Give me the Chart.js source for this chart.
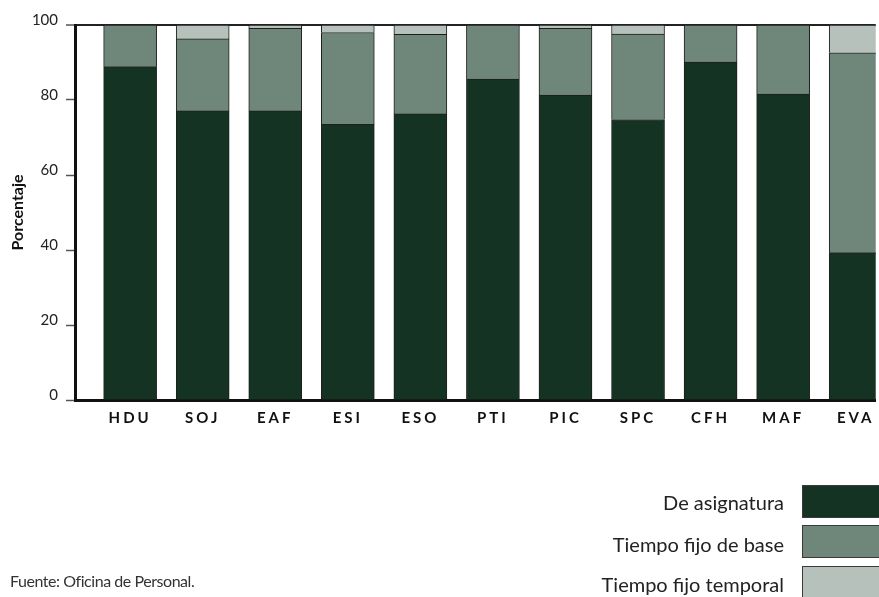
<!DOCTYPE html>
<html>
<head>
<meta charset="utf-8">
<script src="https://cdn.jsdelivr.net/npm/chart.js@4/dist/chart.umd.min.js"></script>
<style>
  html, body { margin: 0; padding: 0; background: #fff; width: 879px; height: 597px; overflow: hidden; }
  #wrap { position: absolute; left: 0; top: 0; width: 879px; height: 597px; }
  .leg { position: absolute; right: 95px; font-family: Lato, "Open Sans", sans-serif; font-size: 20px; color: #222; line-height: 22px; white-space: nowrap; }
  .box { position: absolute; left: 802px; width: 80px; height: 31px; border: 1.5px solid #3a3a3a; box-sizing: content-box; }
  #src { position: absolute; left: 10px; top: 572px; font-family: Lato, "Open Sans", sans-serif; font-size: 16px; letter-spacing: -0.45px; color: #333; white-space: nowrap; line-height: 18px; }
</style>
</head>
<body>
<div id="wrap"><canvas id="c" width="879" height="597"></canvas></div>
<div class="leg" style="top:491px">De asignatura</div>
<div class="box" style="top:485px;background:#153322"></div>
<div class="leg" style="top:533px">Tiempo fijo de base</div>
<div class="box" style="top:525px;background:#6f877a"></div>
<div class="leg" style="top:573px">Tiempo fijo temporal</div>
<div class="box" style="top:566px;background:#b6c1bb"></div>
<div id="src">Fuente: Oficina de Personal.</div>
<script>
const categories = ["HDU","SOJ","EAF","ESI","ESO","PTI","PIC","SPC","CFH","MAF","EVA"];
const deAsignatura   = [88.9, 77.1, 77.1, 73.5, 76.3, 85.6, 81.3, 74.8, 90.1, 81.6, 39.3];
const fijoBase       = [11.1, 19.2, 22.0, 24.5, 21.2, 14.4, 17.8, 22.8,  9.9, 18.4, 53.3];
const fijoTemporal   = [ 0.0,  3.7,  0.9,  2.0,  2.5,  0.0,  0.9,  2.4,  0.0,  0.0,  7.4];
const yTicks = [0, 20, 40, 60, 80, 100];

const toPts = arr => arr.map((v, i) => ({ x: i, y: v }));

const letterSpacingPlugin = {
  id: 'xLetterSpacing',
  afterLayout(chart) {
    const s = chart.scales.x;
    if (s && !s._lsPatched) {
      const orig = s.drawLabels.bind(s);
      s.drawLabels = function (area) {
        const ctx = this.ctx;
        ctx.save();
        try { ctx.letterSpacing = '3px'; } catch (e) {}
        orig(area);
        ctx.restore();
      };
      s._lsPatched = true;
    }
  }
};

const barCommon = { barThickness: 53, borderWidth: 1, borderColor: '#1e1e1e', borderSkipped: 'start' };

new Chart(document.getElementById('c'), {
  type: 'bar',
  data: {
    datasets: [
      Object.assign({ label: 'De asignatura', data: toPts(deAsignatura), backgroundColor: '#153322' }, barCommon),
      Object.assign({ label: 'Tiempo fijo de base', data: toPts(fijoBase), backgroundColor: '#6f877a' }, barCommon),
      Object.assign({ label: 'Tiempo fijo temporal', data: toPts(fijoTemporal), backgroundColor: '#b6c1bb' }, barCommon)
    ]
  },
  plugins: [letterSpacingPlugin],
  options: {
    responsive: false,
    animation: false,
    devicePixelRatio: 1,
    layout: { padding: { top: 25, left: 0, right: 0, bottom: 0 } },
    plugins: { legend: { display: false }, tooltip: { enabled: false } },
    scales: {
      x: {
        type: 'linear',
        stacked: true,
        offset: false,
        min: -0.76,
        max: 10.276,
        z: 1,
        afterBuildTicks: axis => { axis.ticks = categories.map((_, i) => ({ value: i })); },
        afterFit: axis => { axis.height = 597 - 400; },
        grid: { display: true, drawOnChartArea: false, drawTicks: false, offset: false },
        border: { display: true, width: 3, color: '#111' },
        ticks: {
          autoSkip: false, maxRotation: 0, minRotation: 0, padding: 9,
          color: '#111',
          font: { family: 'Lato, "Open Sans", sans-serif', size: 15, weight: 'bold' },
          callback: v => categories[v] !== undefined ? categories[v] : ''
        }
      },
      y: {
        stacked: true,
        min: 0,
        max: 100,
        z: 1,
        afterBuildTicks: axis => { axis.ticks = yTicks.map(v => ({ value: v })); },
        afterFit: axis => { axis.width = 75; },
        grid: {
          drawOnChartArea: true,
          drawTicks: true,
          tickLength: 9,
          tickColor: '#555',
          tickWidth: 1.5,
          color: ctx => (ctx.tick && ctx.tick.value === 100) ? '#222' : 'rgba(0,0,0,0)',
          lineWidth: ctx => (ctx.tick && ctx.tick.value === 100) ? 2 : 1
        },
        border: { display: true, width: 3, color: '#111' },
        ticks: {
          padding: 8,
          labelOffset: -5,
          color: '#222',
          font: { family: 'Lato, "Open Sans", sans-serif', size: 15 }
        },
        title: {
          display: true,
          text: 'Porcentaje',
          color: '#111',
          padding: { top: 8, bottom: 0 },
          font: { family: 'Lato, "Open Sans", sans-serif', size: 16, weight: 'bold' }
        }
      }
    }
  }
});
</script>
</body>
</html>
